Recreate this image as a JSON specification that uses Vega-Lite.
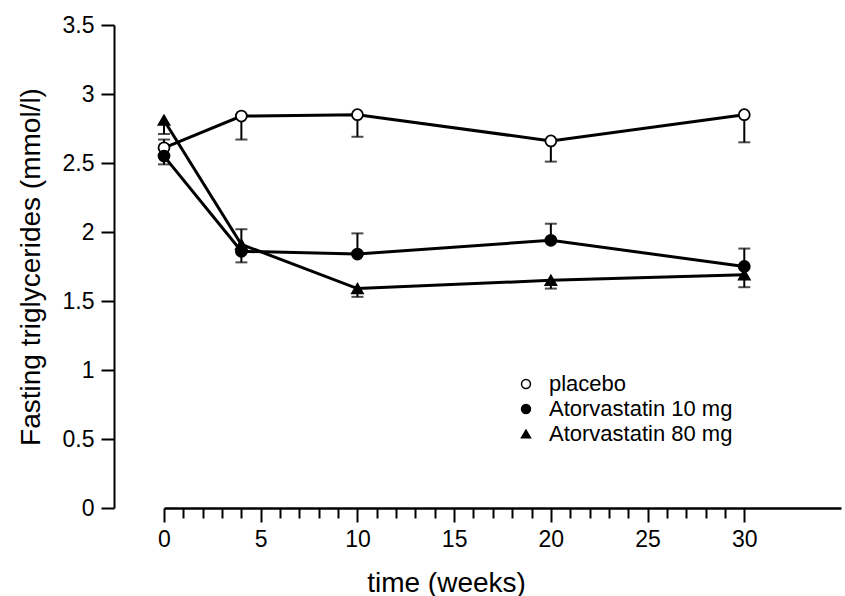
{
  "$schema": "https://vega.github.io/schema/vega-lite/v6.json",
  "width": 677,
  "height": 483,
  "autosize": {"type": "none"},
  "padding": {"left": 164, "top": 25, "right": 4, "bottom": 88},
  "background": "white",
  "config": {
    "view": {"stroke": null},
    "font": "Liberation Sans",
    "axis": {
      "grid": false,
      "domainColor": "black",
      "tickColor": "black",
      "labelColor": "black",
      "titleColor": "black",
      "labelFont": "Liberation Sans",
      "titleFont": "Liberation Sans",
      "titleFontWeight": "normal"
    },
    "legend": {
      "orient": "none",
      "legendX": 351,
      "legendY": 348,
      "labelFont": "Liberation Sans",
      "labelFontSize": 22,
      "labelColor": "black",
      "labelLimit": 400,
      "symbolSize": 80,
      "symbolStrokeWidth": 1.5,
      "rowPadding": 3,
      "labelOffset": 12
    }
  },
  "data": {
    "values": [
      {"week": 0, "group": "placebo", "value": 2.61, "err": 2.67},
      {"week": 4, "group": "placebo", "value": 2.84, "err": 2.67},
      {"week": 10, "group": "placebo", "value": 2.85, "err": 2.69},
      {"week": 20, "group": "placebo", "value": 2.66, "err": 2.51},
      {"week": 30, "group": "placebo", "value": 2.85, "err": 2.65},
      {"week": 0, "group": "Atorvastatin 10 mg", "value": 2.55, "err": 2.49},
      {"week": 4, "group": "Atorvastatin 10 mg", "value": 1.86, "err": 1.78},
      {"week": 10, "group": "Atorvastatin 10 mg", "value": 1.84, "err": 1.99},
      {"week": 20, "group": "Atorvastatin 10 mg", "value": 1.94, "err": 2.06},
      {"week": 30, "group": "Atorvastatin 10 mg", "value": 1.75, "err": 1.88},
      {"week": 0, "group": "Atorvastatin 80 mg", "value": 2.81, "err": 2.71},
      {"week": 4, "group": "Atorvastatin 80 mg", "value": 1.91, "err": 2.02},
      {"week": 10, "group": "Atorvastatin 80 mg", "value": 1.59, "err": 1.53},
      {"week": 20, "group": "Atorvastatin 80 mg", "value": 1.65, "err": 1.59},
      {"week": 30, "group": "Atorvastatin 80 mg", "value": 1.69, "err": 1.6}
    ]
  },
  "resolve": {"axis": {"x": "independent"}},
  "layer": [
    {
      "mark": {"type": "tick", "orient": "horizontal", "color": "black", "thickness": 2, "size": 12},
      "encoding": {
        "x": {
          "field": "week", "type": "quantitative",
          "scale": {"domain": [0, 35], "nice": false, "zero": false},
          "axis": {
            "orient": "bottom",
            "values": [1, 2, 3, 4, 6, 7, 8, 9, 11, 12, 13, 14, 16, 17, 18, 19, 21, 22, 23, 24, 26, 27, 28, 29],
            "tickSize": 10, "tickWidth": 2, "labels": false, "domain": false, "title": null
          }
        },
        "y": {"field": "err", "type": "quantitative"}
      }
    },
    {
      "encoding": {
        "x": {
          "field": "week", "type": "quantitative",
          "scale": {"domain": [0, 35], "nice": false, "zero": false},
          "axis": {
            "orient": "bottom",
            "values": [0, 5, 10, 15, 20, 25, 30],
            "tickSize": 14, "tickWidth": 2, "domainWidth": 2.5,
            "labelFontSize": 23, "labelPadding": 6, "labelFlush": false,
            "title": "time (weeks)", "titleFontSize": 28, "titlePadding": 18,
            "titleX": 282
          }
        },
        "y": {
          "field": "value", "type": "quantitative",
          "scale": {"domain": [0, 3.5], "nice": false, "zero": false},
          "axis": {
            "orient": "left",
            "values": [0, 0.5, 1, 1.5, 2, 2.5, 3, 3.5],
            "format": "~g",
            "offset": 50,
            "tickSize": 13, "tickWidth": 2, "domainWidth": 2,
            "labelFontSize": 23, "labelPadding": 7,
            "title": "Fasting triglycerides (mmol/l)", "titleFontSize": 28, "titlePadding": 17
          }
        }
      },
      "layer": [
        {
          "mark": {"type": "rule", "color": "black", "strokeWidth": 2},
          "encoding": {"y2": {"field": "err"}}
        },
        {
          "mark": {"type": "line", "color": "black", "strokeWidth": 3},
          "encoding": {"detail": {"field": "group", "type": "nominal"}}
        },
        {
          "mark": {"type": "point", "filled": true, "size": 120, "strokeWidth": 1.8, "opacity": 1},
          "encoding": {
            "shape": {
              "field": "group", "type": "nominal",
              "scale": {"domain": ["placebo", "Atorvastatin 10 mg", "Atorvastatin 80 mg"], "range": ["circle", "circle", "triangle-up"]},
              "legend": {"title": null}
            },
            "fill": {
              "field": "group", "type": "nominal",
              "scale": {"domain": ["placebo", "Atorvastatin 10 mg", "Atorvastatin 80 mg"], "range": ["white", "black", "black"]},
              "legend": {"title": null}
            },
            "stroke": {
              "field": "group", "type": "nominal",
              "scale": {"domain": ["placebo", "Atorvastatin 10 mg", "Atorvastatin 80 mg"], "range": ["black", "black", "black"]},
              "legend": {"title": null}
            }
          }
        }
      ]
    }
  ]
}
